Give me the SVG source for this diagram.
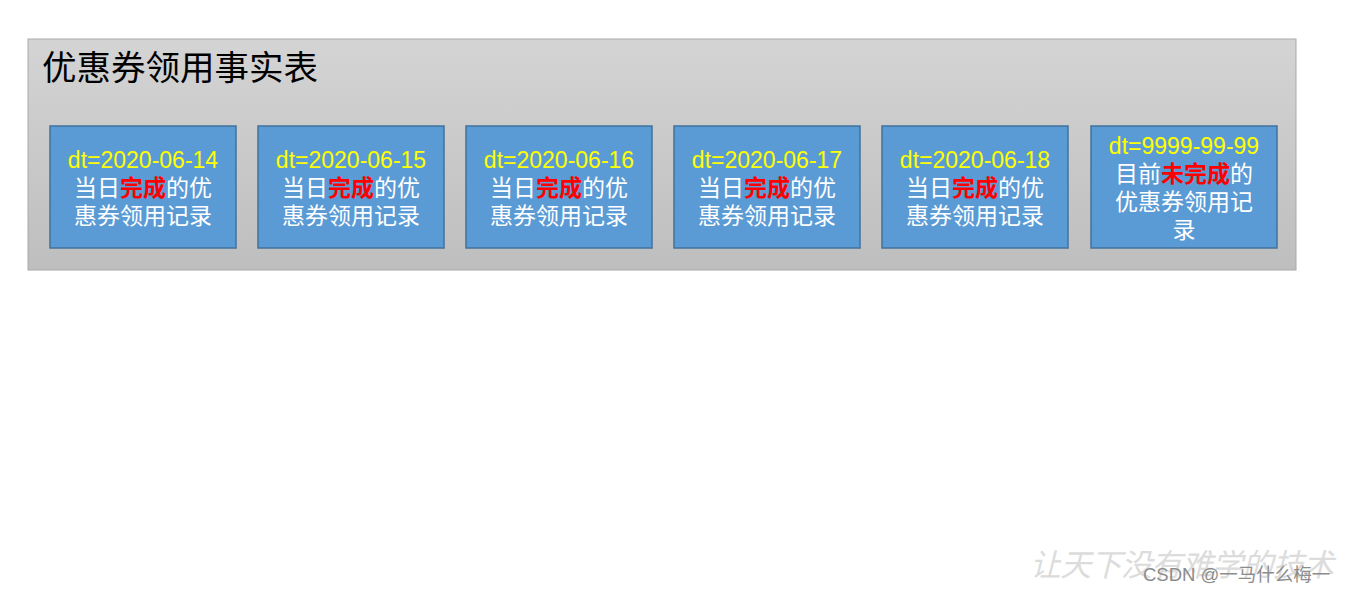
<svg xmlns="http://www.w3.org/2000/svg" width="1348" height="593" viewBox="0 0 1348 593">
<defs>
<linearGradient id="bg" x1="0" y1="0" x2="0" y2="1">
<stop offset="0" stop-color="#d4d4d4"/>
<stop offset="1" stop-color="#bebebe"/>
</linearGradient>
</defs>
<style>
.box{fill:#5b9bd5;stroke:#41719c;stroke-width:1.5}
.t{font-family:"Liberation Sans","Noto Sans CJK SC",sans-serif;font-size:23px;text-anchor:middle;fill:#fff}
.dt{fill:#ffff00}
.r{fill:#ff0000;font-weight:bold}
</style>
<rect width="1348" height="593" fill="#fff"/>
<g id="container">
<rect x="28" y="39" width="1268" height="231" fill="url(#bg)" stroke="#a9a9a9" stroke-width="1"/>
<text x="42" y="80" font-family="'Liberation Sans','Noto Sans CJK SC',sans-serif" font-size="34.5" fill="#000">优惠券领用事实表</text>
</g>
<g id="connectors"></g>
<g id="n1">
<rect class="box" x="50" y="126" width="186" height="122"/>
<text class="t dt" x="143" y="168">dt=2020-06-14</text>
<text class="t" x="143" y="196">当日<tspan class="r">完成</tspan>的优</text>
<text class="t" x="143" y="224">惠券领用记录</text>
</g>
<g id="n2">
<rect class="box" x="258" y="126" width="186" height="122"/>
<text class="t dt" x="351" y="168">dt=2020-06-15</text>
<text class="t" x="351" y="196">当日<tspan class="r">完成</tspan>的优</text>
<text class="t" x="351" y="224">惠券领用记录</text>
</g>
<g id="n3">
<rect class="box" x="466" y="126" width="186" height="122"/>
<text class="t dt" x="559" y="168">dt=2020-06-16</text>
<text class="t" x="559" y="196">当日<tspan class="r">完成</tspan>的优</text>
<text class="t" x="559" y="224">惠券领用记录</text>
</g>
<g id="n4">
<rect class="box" x="674" y="126" width="186" height="122"/>
<text class="t dt" x="767" y="168">dt=2020-06-17</text>
<text class="t" x="767" y="196">当日<tspan class="r">完成</tspan>的优</text>
<text class="t" x="767" y="224">惠券领用记录</text>
</g>
<g id="n5">
<rect class="box" x="882" y="126" width="186" height="122"/>
<text class="t dt" x="975" y="168">dt=2020-06-18</text>
<text class="t" x="975" y="196">当日<tspan class="r">完成</tspan>的优</text>
<text class="t" x="975" y="224">惠券领用记录</text>
</g>
<g id="n6">
<rect class="box" x="1091" y="126" width="186" height="122"/>
<text class="t dt" x="1184" y="154">dt=9999-99-99</text>
<text class="t" x="1184" y="182">目前<tspan class="r">未完成</tspan>的</text>
<text class="t" x="1184" y="210">优惠券领用记</text>
<text class="t" x="1184" y="238">录</text>
</g>
<g id="watermark">
<text x="1030" y="576" font-family="'Noto Sans CJK SC',sans-serif" font-size="31" font-style="italic" fill="#dcdcdc" textLength="304">让天下没有难学的技术</text>
<text x="1143" y="581" font-family="'Liberation Sans','Noto Sans CJK SC',sans-serif" font-size="18.5" fill="#8c8c8c">CSDN @一马什么梅一</text>
</g>
</svg>
